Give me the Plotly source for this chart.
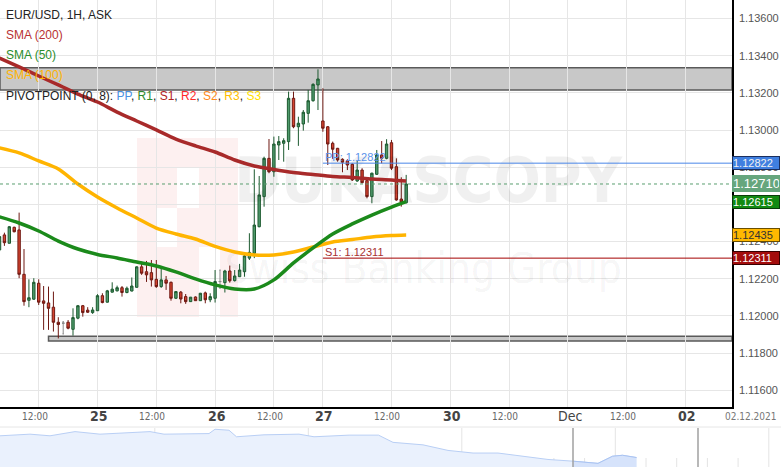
import plotly.graph_objects as go

W, H = 781, 467
PLOT_R, PLOT_B = 732, 407
NAV_T = 427

# ---------------- data ----------------
bars = list(range(84))
opens = [1.12355, 1.12436, 1.12391, 1.12477, 1.12463, 1.12224, 1.12084, 1.12090, 1.12176, 1.12081,
         1.12070, 1.12047, 1.11966, 1.11961, 1.11966, 1.11928, 1.11988, 1.12055, 1.12031, 1.12018,
         1.12028, 1.12109, 1.12074, 1.12128, 1.12135, 1.12152, 1.12126, 1.12134, 1.12154, 1.12264,
         1.12238, 1.12233, 1.12197, 1.12158, 1.12194, 1.12181, 1.12095, 1.12128, 1.12104, 1.12077,
         1.12102, 1.12082, 1.12124, 1.12087, 1.12095, 1.12185, 1.12179, 1.12242, 1.12190, 1.12211,
         1.12238, 1.12311, 1.12337, 1.12480, 1.12642, 1.12848, 1.12776, 1.12920, 1.12929, 1.12938,
         1.13171, 1.13018, 1.13033, 1.13090, 1.13158, 1.13243, 1.13049, 1.13018, 1.12929, 1.12902,
         1.12843, 1.12835, 1.12816, 1.12726, 1.12785, 1.12728, 1.12642, 1.12762, 1.12866, 1.12848,
         1.12932, 1.12803, 1.12629, 1.12609]
highs = [1.12446, 1.12448, 1.12484, 1.12480, 1.12556, 1.12360, 1.12197, 1.12203, 1.12197, 1.12161,
         1.12158, 1.12131, 1.11993, 1.11969, 1.11978, 1.12041, 1.12059, 1.12059, 1.12047, 1.12047,
         1.12117, 1.12122, 1.12140, 1.12181, 1.12163, 1.12161, 1.12158, 1.12207, 1.12267, 1.12292,
         1.12296, 1.12301, 1.12301, 1.12264, 1.12215, 1.12185, 1.12134, 1.12134, 1.12118, 1.12102,
         1.12105, 1.12124, 1.12131, 1.12122, 1.12247, 1.12247, 1.12248, 1.12271, 1.12247, 1.12280,
         1.12337, 1.12445, 1.12789, 1.12753, 1.12857, 1.12952, 1.12965, 1.12968, 1.12956, 1.13207,
         1.13207, 1.13072, 1.13108, 1.13216, 1.13252, 1.13327, 1.13225, 1.13022, 1.12938, 1.12904,
         1.12848, 1.12843, 1.12821, 1.12835, 1.12795, 1.12732, 1.12771, 1.12893, 1.12941, 1.12951,
         1.12947, 1.12848, 1.12746, 1.12759]
lows = [1.12344, 1.12377, 1.12390, 1.12450, 1.12203, 1.12055, 1.12047, 1.12087, 1.12059, 1.11925,
        1.11925, 1.11916, 1.11879, 1.11903, 1.11928, 1.11894, 1.11982, 1.11996, 1.12016, 1.12011,
        1.12027, 1.12068, 1.12072, 1.12126, 1.12132, 1.12104, 1.12122, 1.12132, 1.12152, 1.12221,
        1.12183, 1.12158, 1.12151, 1.12151, 1.12140, 1.12082, 1.12091, 1.12068, 1.12065, 1.12075,
        1.12081, 1.12081, 1.12068, 1.12074, 1.12072, 1.12149, 1.12126, 1.12179, 1.12185, 1.12210,
        1.12211, 1.12301, 1.12311, 1.12477, 1.12588, 1.12768, 1.12749, 1.12839, 1.12830, 1.12893,
        1.13010, 1.12915, 1.12997, 1.13040, 1.13153, 1.13108, 1.12991, 1.12812, 1.12845, 1.12830,
        1.12773, 1.12785, 1.12726, 1.12722, 1.12714, 1.12633, 1.12606, 1.12759, 1.12821, 1.12843,
        1.12785, 1.12620, 1.12588, 1.12606]
closes = [1.12427, 1.12394, 1.12480, 1.12453, 1.12224, 1.12077, 1.12098, 1.12181, 1.12074, 1.12068,
          1.12041, 1.11966, 1.11954, 1.11961, 1.11934, 1.11991, 1.12055, 1.12018, 1.12020, 1.12032,
          1.12109, 1.12072, 1.12135, 1.12144, 1.12152, 1.12126, 1.12149, 1.12161, 1.12264, 1.12230,
          1.12221, 1.12194, 1.12158, 1.12194, 1.12176, 1.12095, 1.12131, 1.12091, 1.12077, 1.12101,
          1.12082, 1.12122, 1.12087, 1.12104, 1.12185, 1.12185, 1.12242, 1.12189, 1.12215, 1.12247,
          1.12323, 1.12342, 1.12489, 1.12651, 1.12848, 1.12776, 1.12925, 1.12938, 1.12943, 1.13171,
          1.13018, 1.13037, 1.13096, 1.13158, 1.13246, 1.13275, 1.13010, 1.12925, 1.12897, 1.12839,
          1.12827, 1.12812, 1.12732, 1.12785, 1.12717, 1.12642, 1.12768, 1.12866, 1.12848, 1.12925,
          1.12795, 1.12624, 1.12613, 1.12710]

sma_bars = [0, 4, 8, 12, 16, 20, 24, 28, 32, 36, 40, 44, 48, 52, 56, 60, 64, 68, 72, 76, 80, 83]
sma200 = [1.13388, 1.13340, 1.13291, 1.13243, 1.13194, 1.13151, 1.13097, 1.13049, 1.13001, 1.12952, 1.12915,
          1.12882, 1.12839, 1.12807, 1.12788, 1.12772, 1.12761, 1.12750, 1.12745, 1.12737, 1.12732, 1.12726]
sma100 = [1.12904, 1.12877, 1.12834, 1.12791, 1.12710, 1.12640, 1.12581, 1.12527, 1.12473, 1.12441, 1.12414,
          1.12374, 1.12344, 1.12328, 1.12328, 1.12344, 1.12371, 1.12398, 1.12411, 1.12425, 1.12433, 1.12436]
sma50 = [1.12533, 1.12500, 1.12457, 1.12403, 1.12360, 1.12331, 1.12312, 1.12290, 1.12269, 1.12237, 1.12199,
         1.12167, 1.12145, 1.12145, 1.12194, 1.12285, 1.12366, 1.12441, 1.12495, 1.12543, 1.12586, 1.12615]

pivot_start_bar = 66
pivot_pp = 1.12822
pivot_s1 = 1.12311
last_price = 1.12710
zone_top = (1.13216, 1.13336)
zone_bottom_start = 10
zone_bottom = (1.11865, 1.11891)

x_tick_bars = [8, 20, 32, 44, 56, 66, 80, 92, 104, 116, 128, 140]
x_tick_text = ["12:00", "25", "12:00", "26", "12:00", "27", "12:00", "30", "12:00", "Dec", "12:00", "02"]
date_stamp = "02.12.2021"

nav_pos = [0, 30, 50, 75, 100, 125, 150, 164, 189, 209, 215, 229, 236.5, 264, 299, 314, 349, 378.5,
           393, 423, 448, 473, 498, 523, 548, 573, 598, 612.5, 622.5, 636.5]
nav_val = [1.1526, 1.1551, 1.1526, 1.1590, 1.1551, 1.1575, 1.1590, 1.1551, 1.1551, 1.1560, 1.1626,
           1.1611, 1.1511, 1.1541, 1.1551, 1.1511, 1.1536, 1.1536, 1.1426, 1.1388, 1.1303, 1.1263,
           1.1263, 1.1214, 1.1165, 1.1139, 1.1105, 1.1214, 1.1229, 1.1194]
nav_window = (573, 698)

# ---------------- figure ----------------
FONT = "Liberation Sans, Arial, sans-serif"
NARROW = "Liberation Sans Narrow, Arial Narrow, DejaVu Sans Condensed, Liberation Sans, sans-serif"

def px(x):
    return x / W

def py(y):
    return 1 - y / H

fig = go.Figure()

# watermark text (translucent so candles stay visible)
fig.add_trace(go.Scatter(x=[87.5], y=[1.12694], mode="text", text=["DUKASCOPY"],
                         textfont=dict(family=NARROW, size=62, color="rgba(0,0,0,0.06)", weight="bold"),
                         hoverinfo="skip", showlegend=False, xaxis="x", yaxis="y"))
fig.add_trace(go.Scatter(x=[86.5], y=[1.12232], mode="text", text=["Swiss Banking Group"],
                         textfont=dict(family=NARROW, size=42, color="rgba(0,0,0,0.05)"),
                         hoverinfo="skip", showlegend=False, xaxis="x", yaxis="y"))

# SMA lines
for vals, col in [(sma100, "#ffb400"), (sma200, "#a82a2a"), (sma50, "#1b8a1b")]:
    fig.add_trace(go.Scatter(x=sma_bars, y=vals, mode="lines",
                             line=dict(color=col, width=3.5, shape="spline", smoothing=0.8),
                             hoverinfo="skip", showlegend=False, xaxis="x", yaxis="y"))

# candles
idx_n = [i for i in bars if opens[i] != closes[i]]
idx_d = [i for i in bars if opens[i] == closes[i]]
fig.add_trace(go.Candlestick(
    x=[bars[i] for i in idx_n], open=[opens[i] for i in idx_n], high=[highs[i] for i in idx_n],
    low=[lows[i] for i in idx_n], close=[closes[i] for i in idx_n],
    increasing=dict(fillcolor="#4f9a6c", line=dict(color="#1d5a30", width=1)),
    decreasing=dict(fillcolor="#d4432f", line=dict(color="#6e1812", width=1)),
    whiskerwidth=0, showlegend=False, xaxis="x", yaxis="y"))
fig.add_trace(go.Candlestick(
    x=[bars[i] for i in idx_d], open=[opens[i] for i in idx_d], high=[highs[i] for i in idx_d],
    low=[lows[i] for i in idx_d], close=[closes[i] for i in idx_d],
    increasing=dict(fillcolor="#8a8a8a", line=dict(color="#8a8a8a", width=1)),
    decreasing=dict(fillcolor="#8a8a8a", line=dict(color="#8a8a8a", width=1)),
    whiskerwidth=0.6, showlegend=False, xaxis="x", yaxis="y"))

# navigator
fig.add_trace(go.Scatter(x=nav_pos, y=nav_val, mode="lines", fill="tozeroy",
                         line=dict(color="#b9cff5", width=1), fillcolor="#eaf1fd",
                         hoverinfo="skip", showlegend=False, xaxis="x2", yaxis="y2"))
sel = [i for i, p in enumerate(nav_pos) if p >= nav_window[0]]
fig.add_trace(go.Scatter(x=[nav_pos[i] for i in sel], y=[nav_val[i] for i in sel], mode="lines",
                         fill="tozeroy", line=dict(color="#a9c3f2", width=1), fillcolor="#d6e3fb",
                         hoverinfo="skip", showlegend=False, xaxis="x2", yaxis="y2"))

shapes = []
# logo watermark (pink block)
shapes.append(dict(type="rect", xref="paper", yref="paper", x0=px(137), x1=px(238), y0=py(317), y1=py(138),
                   fillcolor="#fdf0f0", line=dict(width=0), layer="below"))
for (x0, y0, x1, y1) in [(177, 168, 199, 208), (157, 208, 177, 247), (199, 247, 220, 317)]:
    shapes.append(dict(type="rect", xref="paper", yref="paper", x0=px(x0), x1=px(x1), y0=py(y1), y1=py(y0),
                       fillcolor="#ffffff", line=dict(width=0), layer="below"))
# zones
shapes.append(dict(type="rect", xref="x domain", yref="y", x0=0, x1=1, y0=zone_top[0], y1=zone_top[1],
                   fillcolor="#c8c8c8", line=dict(color="#5a5a5a", width=1.5), layer="below"))
shapes.append(dict(type="rect", xref="x", yref="y", x0=zone_bottom_start, x1=149.5,
                   y0=zone_bottom[0], y1=zone_bottom[1],
                   fillcolor="#c8c8c8", line=dict(color="#5a5a5a", width=1.5), layer="below"))
# pivot lines
shapes.append(dict(type="line", xref="x", yref="y", x0=pivot_start_bar, x1=149.5, y0=pivot_pp, y1=pivot_pp,
                   line=dict(color="#4a86e8", width=1)))
shapes.append(dict(type="line", xref="x", yref="y", x0=pivot_start_bar, x1=149.5, y0=pivot_s1, y1=pivot_s1,
                   line=dict(color="#a30000", width=1)))
# current price dashed
shapes.append(dict(type="line", xref="x domain", yref="y", x0=0, x1=1, y0=last_price, y1=last_price,
                   line=dict(color="#5a9e70", width=1, dash="3px,3px")))
# navigator top line and grid
shapes.append(dict(type="line", xref="paper", yref="paper", x0=0, x1=1, y0=py(NAV_T), y1=py(NAV_T),
                   line=dict(color="#e6e6e6", width=1), layer="below"))
for i in range(26):
    gx = 32 + i * 30.7
    tall = (i % 5 == 4)
    shapes.append(dict(type="line", xref="paper", yref="paper", x0=px(gx), x1=px(gx),
                       y0=0, y1=py(428 if tall else 458),
                       line=dict(color="#e4e4e4", width=1), layer="below"))
for hx in nav_window:
    shapes.append(dict(type="line", xref="x2", yref="paper", x0=hx, x1=hx, y0=0, y1=py(428),
                       line=dict(color="#a0a0a0", width=1.5)))

annotations = []
# legend texts
legend = [("EUR/USD, 1H, ASK", "#222222", 15), ("SMA (200)", "#b83232", 35),
          ("SMA (50)", "#2b8d2b", 55), ("SMA (100)", "#ffb300", 75),
          ("PIVOTPOINT (0, 8): <span style='color:#4a90e2'>PP</span>, <span style='color:#2e8b2e'>R1</span>, "
           "<span style='color:#b22222'>S1</span>, <span style='color:#ff2a2a'>R2</span>, "
           "<span style='color:#ff8a1a'>S2</span>, <span style='color:#ffc000'>R3</span>, "
           "<span style='color:#ffe000'>S3</span>", "#222222", 96)]
for txt, col, yy in legend:
    annotations.append(dict(text=txt, xref="paper", yref="paper", x=px(4), y=py(yy), xanchor="left",
                            yanchor="middle", showarrow=False, font=dict(family=FONT, size=12, color=col)))
# pivot labels
annotations.append(dict(text="PP: 1.12822", xref="x", yref="y", x=pivot_start_bar, y=pivot_pp, xanchor="left",
                        yanchor="bottom", showarrow=False, yshift=-2,
                        font=dict(family=FONT, size=11, color="#5a93ea")))
annotations.append(dict(text="S1: 1.12311", xref="x", yref="y", x=pivot_start_bar, y=pivot_s1, xanchor="left",
                        yanchor="bottom", showarrow=False, yshift=-2,
                        font=dict(family=FONT, size=11, color="#a83232")))
# x labels
for xb, t in zip(x_tick_bars, x_tick_text):
    if t == "12:00":
        f = dict(family=NARROW, size=10, color="#666666")
        sh = -4
    elif t == "Dec":
        f = dict(family=NARROW, size=14, color="#444444")
        sh = 2
    else:
        f = dict(family=NARROW, size=14, color="#444444", weight="bold")
        sh = 1.5
        t = "<b>%s</b>" % t
    annotations.append(dict(text=t, xref="x", yref="paper", x=xb, y=py(416), xanchor="center",
                            yanchor="middle", showarrow=False, xshift=sh, font=f))
annotations.append(dict(text=date_stamp, xref="paper", yref="paper", x=px(779), y=py(416), xanchor="right",
                        yanchor="middle", showarrow=False, font=dict(family=NARROW, size=10, color="#777777")))
# right axis value boxes
boxes = [(1.12822, "#3f7fe0", "#1b2f5e", "#f2f2f2", 11, 12),
         (1.12435, "#ffb800", "#6a4e00", "#333333", 11, 12),
         (1.12311, "#a40d0d", "#3a0000", "#ffffff", 11, 12),
         (1.12615, "#128a12", "#0b3d0b", "#ffffff", 11, 12),
         (last_price, "#66a67d", "#66a67d", "#ffffff", 13, 15)]
for val, bg, bc, fc, fs, hh in boxes:
    annotations.append(dict(text="%.5f" % val, xref="paper", yref="y", x=px(PLOT_R), y=val,
                            xanchor="left", yanchor="middle", showarrow=False, align="left",
                            width=46, height=hh, bgcolor=bg, bordercolor=bc, borderwidth=1, borderpad=0,
                            font=dict(family=FONT, size=fs, color=fc)))

fig.update_layout(
    width=W, height=H, margin=dict(l=0, r=0, t=0, b=0),
    paper_bgcolor="white", plot_bgcolor="white",
    showlegend=False, hovermode=False,
    font=dict(family=FONT),
    xaxis=dict(domain=[0, PLOT_R / W], range=[0.1, 149.5], tickvals=x_tick_bars, showticklabels=False,
               showgrid=True, gridcolor="#e6e6e6", gridwidth=1, zeroline=False,
               showline=True, linecolor="#000000", linewidth=1.5, ticks="",
               rangeslider=dict(visible=False), anchor="y", fixedrange=True),
    yaxis=dict(domain=[1 - PLOT_B / H, 1], range=[1.11510, 1.13700], side="right", dtick=0.002, tick0=1.116,
               tickformat=".5f", showgrid=True, gridcolor="#e6e6e6", zeroline=False,
               showline=True, linecolor="#000000", linewidth=1.5, ticks="outside", ticklen=3,
               tickcolor="rgba(0,0,0,0)", tickfont=dict(family=FONT, size=11, color="#555555"),
               anchor="x", automargin=False, fixedrange=True),
    xaxis2=dict(domain=[0, 1], range=[0, 781], visible=False, anchor="y2", fixedrange=True),
    yaxis2=dict(domain=[0, (H - NAV_T - 1) / H], range=[1.105, 1.1645], visible=False, anchor="x2",
                fixedrange=True),
    shapes=shapes, annotations=annotations,
)

fig.write_html("out.html", config={"displayModeBar": False},
               post_script="document.body.style.margin='0';document.body.style.overflow='hidden';")
